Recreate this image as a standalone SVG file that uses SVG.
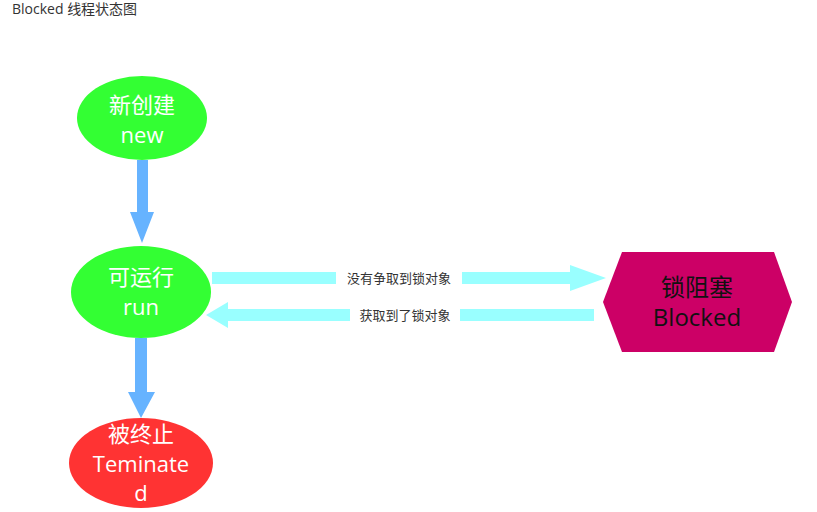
<svg xmlns="http://www.w3.org/2000/svg" width="817" height="512" viewBox="0 0 817 512">
<style>
.t{font-family:"Open Sans","Noto Sans CJK SC",sans-serif;}
.w{fill:#fff;font-size:22px;text-anchor:middle;}
.lbl{font-size:13px;fill:#333;text-anchor:middle;}
.v{fill:#66b3ff;}
.h{fill:#99ffff;}
</style>
<rect width="817" height="512" fill="#fff"/>
<text class="t" x="12" y="14" font-size="14" fill="#333">Blocked 线程状态图</text>
<g id="connectors">
<polygon class="v" points="137,160 148,160 148,212 154,212 142,243 130,212 137,212"/>
<polygon class="v" points="135,338 147,338 147,392 155,392 141,418 128,392 135,392"/>
<polygon class="h" points="212,272 570,272 570,265 606,278 570,291 570,284 212,284"/>
<polygon class="h" points="594,309 228,309 228,302 206,315 228,328 228,321 594,321"/>
<rect x="336" y="269" width="126" height="18" fill="#fff"/>
<text class="t lbl" x="399" y="283">没有争取到锁对象</text>
<rect x="350" y="306" width="110" height="18" fill="#fff"/>
<text class="t lbl" x="405" y="320">获取到了锁对象</text>
</g>
<g id="new">
<ellipse cx="142" cy="118" rx="65" ry="42" fill="#33ff33"/>
<text class="t w" x="142" y="113">新创建</text>
<text class="t w" x="142" y="143">new</text>
</g>
<g id="run">
<ellipse cx="141" cy="292" rx="70" ry="46" fill="#33ff33"/>
<text class="t w" x="141" y="285">可运行</text>
<text class="t w" x="141" y="315">run</text>
</g>
<g id="blocked">
<polygon points="603,302 622,252 774,252 792,302 774,352 622,352" fill="#cc0066"/>
<text class="t" x="697" y="296" font-size="24" fill="#111" text-anchor="middle">锁阻塞</text>
<text class="t" x="697" y="326" font-size="24" fill="#111" text-anchor="middle">Blocked</text>
</g>
<g id="terminated">
<ellipse cx="141" cy="463" rx="72" ry="45" fill="#ff3333"/>
<text class="t w" x="141" y="442">被终止</text>
<text class="t w" x="141" y="472">Teminate</text>
<text class="t w" x="141" y="501">d</text>
</g>
</svg>
